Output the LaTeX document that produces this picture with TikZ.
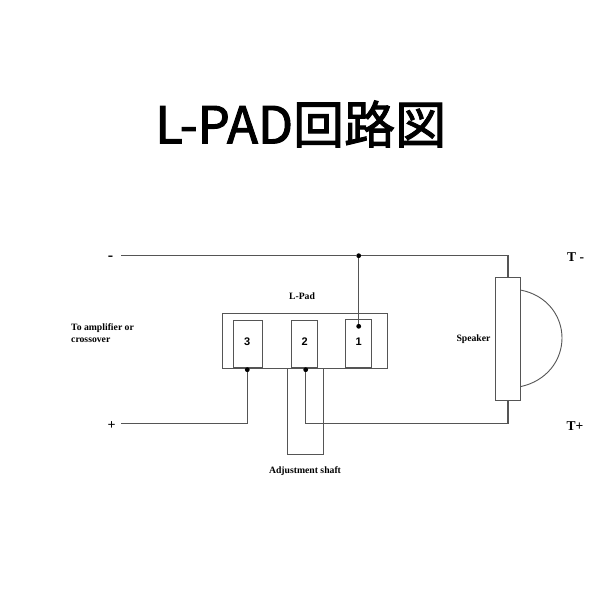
\documentclass[tikz,border=0pt]{standalone}
\usepackage{fontspec}
\setmainfont{Liberation Serif}
\newfontfamily\cjkfont[FakeBold=2]{Noto Sans CJK JP}
\newfontfamily\numfont{Liberation Sans}
\definecolor{wire}{HTML}{555555}
\tikzset{
  wireline/.style={draw=wire,line width=1.1pt},
  boxrect/.style={draw=wire,line width=1.1pt,fill=white,inner sep=0pt,minimum width=#1},
  junction/.style={circle,fill=black,inner sep=0pt,minimum size=4.8pt},
  lbl/.style={font=\bfseries\fontsize{9.7}{12}\selectfont,inner sep=0pt,align=left},
  term/.style={font=\bfseries\fontsize{13.5}{15}\selectfont,inner sep=0pt},
  pin/.style={font=\numfont\bfseries\fontsize{11}{13}\selectfont,inner sep=0pt}
}
\begin{document}
\begin{tikzpicture}[x=1pt,y=-1pt]
\useasboundingbox (0,0) rectangle (600,600);
\node[inner sep=0pt,anchor=west,font=\cjkfont\fontsize{51}{60}\selectfont] (title) at (155,124) {L-PAD回路図};
% shaft (behind the pad)
\node[boxrect=36.6pt,minimum height=86.3pt,anchor=north west] (shaft) at (286.7,368) {};
% L-pad body
\node[boxrect=165.3pt,minimum height=54.7pt,anchor=north west] (pad) at (221.7,313.3) {};
\node[boxrect=28.4pt,minimum height=47pt,anchor=north west] (t3) at (233.3,320.3) {};
\node[boxrect=26pt,minimum height=47pt,anchor=north west] (t2) at (291,320.3) {};
\node[boxrect=26pt,minimum height=48pt,anchor=north west] (t1) at (345.3,319.3) {};
\node[pin] (n3) at (247.3,341.5) {3};
\node[pin] (n2) at (304.7,341.5) {2};
\node[pin] (n1) at (358.7,342) {1};
% speaker
\node[boxrect=25pt,minimum height=123.3pt,anchor=north west] (spk) at (495.3,277) {};
\coordinate (domeA) at (520.3,290);
\coordinate (domeB) at (520.3,386.7);
\draw[draw=wire,line width=0.9pt] (domeA) .. controls (547,295) and (562,316) .. (562,338) .. controls (562,360) and (547,381) .. (domeB);
% junctions
\node[junction] (jtop) at (358.7,255.7) {};
\node[junction] (j1) at (358.7,326.3) {};
\node[junction] (j2) at (305.7,369.7) {};
\node[junction] (j3) at (247.3,369.7) {};
% free ends and corners
\coordinate (minus) at (121,255.7);
\coordinate (plus) at (121,423.3);
\coordinate (cornerTop) at (508,255.7);
\coordinate (cornerBot) at (508,423.3);
\coordinate (corner2) at (305.7,423.3);
\coordinate (corner3) at (247.3,423.3);
\coordinate (spkTop) at (508,277);
\coordinate (spkBot) at (508,400.3);
\draw[wireline] (minus) -- (jtop) -- (cornerTop) -- (spkTop);
\draw[wireline] (jtop) -- (j1);
\draw[wireline] (plus) -- (corner3) -- (j3);
\draw[wireline] (j2) -- (corner2) -- (cornerBot) -- (spkBot);
% labels
\node[term,font=\bfseries\fontsize{16}{16}\selectfont] (lm) at (110.5,258) {-};
\node[term,font=\bfseries\fontsize{14}{16}\selectfont] (lp) at (111.5,425.5) {+};
\node[term,anchor=west] (tm) at (567,257) {T -};
\node[term,anchor=west] (tp) at (566.5,426) {T+};
\node[lbl] (lpad) at (302,296.5) {L-Pad};
\node[lbl,anchor=north west] (amp) at (71,323.5) {To amplifier or\\crossover};
\node[lbl] (spkl) at (473.5,339.5) {Speaker};
\node[lbl] (adj) at (305,471.5) {Adjustment shaft};
\end{tikzpicture}
\end{document}
